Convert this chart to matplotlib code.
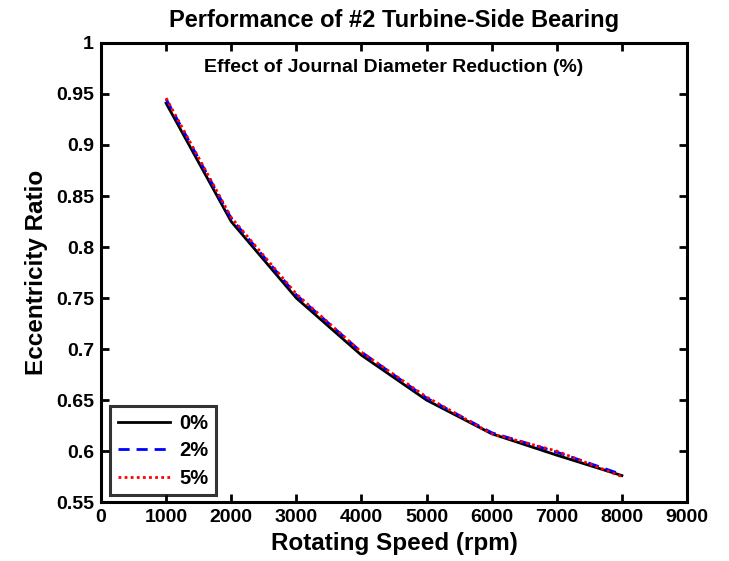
import numpy as np
import matplotlib.pyplot as plt

plt.rcParams['font.family'] = ['Liberation Sans', 'DejaVu Sans']
plt.rcParams['font.weight'] = 'bold'

# Rotating speed (rpm) and eccentricity ratio for each diameter reduction
speed = [1000, 2000, 3000, 4000, 5000, 6000, 7000, 8000]
ecc_0 = [0.941, 0.825, 0.750, 0.694, 0.650, 0.617, 0.596, 0.576]
ecc_2 = [0.945, 0.828, 0.753, 0.697, 0.652, 0.618, 0.599, 0.577]
ecc_5 = [0.946, 0.829, 0.754, 0.697, 0.653, 0.617, 0.600, 0.575]
labels = ['0%', '2%', '5%']

fig = plt.figure(figsize=(7.29, 5.61), dpi=100)
ax = fig.add_axes([0.1385, 0.105, 0.8039, 0.8184])

ax.plot(speed, ecc_0, color='black', ls='-', lw=2, label=labels[0])
ax.plot(speed, ecc_2, color='blue', ls=(0, (4, 2.5)), lw=2, label=labels[1])
ax.plot(speed, ecc_5, color='red', ls=(0, (1, 1.2)), lw=2, label=labels[2])

ax.set_xlim(0, 9000)
ax.set_ylim(0.55, 1)
ax.set_xticks(np.arange(0, 9001, 1000))
ax.set_yticks(np.arange(0.55, 1.001, 0.05))
ax.set_yticklabels(['0.55', '0.6', '0.65', '0.7', '0.75', '0.8', '0.85',
                    '0.9', '0.95', '1'])
ax.tick_params(direction='in', length=6, width=2, labelsize=14,
               top=True, right=True, pad=5)
for s in ax.spines.values():
    s.set_linewidth(2.2)

ax.set_xlabel('Rotating Speed (rpm)', fontsize=17.5, fontweight='bold', labelpad=4.5)
ax.set_ylabel('Eccentricity Ratio', fontsize=17.5, fontweight='bold', labelpad=6)
ax.set_title('Performance of #2 Turbine-Side Bearing', fontsize=17,
             fontweight='bold', pad=11.5)
ax.text(0.5, 0.965, 'Effect of Journal Diameter Reduction (%)',
        transform=ax.transAxes, ha='center', va='top', fontsize=14,
        fontweight='bold')

leg = ax.legend(loc='lower left', fontsize=14.5, frameon=True, fancybox=False,
                handlelength=2.6, handletextpad=0.45, borderpad=0.38,
                labelspacing=0.42, borderaxespad=0,
                bbox_to_anchor=(0.016, 0.015))
leg.get_frame().set_edgecolor('black')
leg.get_frame().set_linewidth(2.2)

fig.savefig('out.png', dpi=100)
